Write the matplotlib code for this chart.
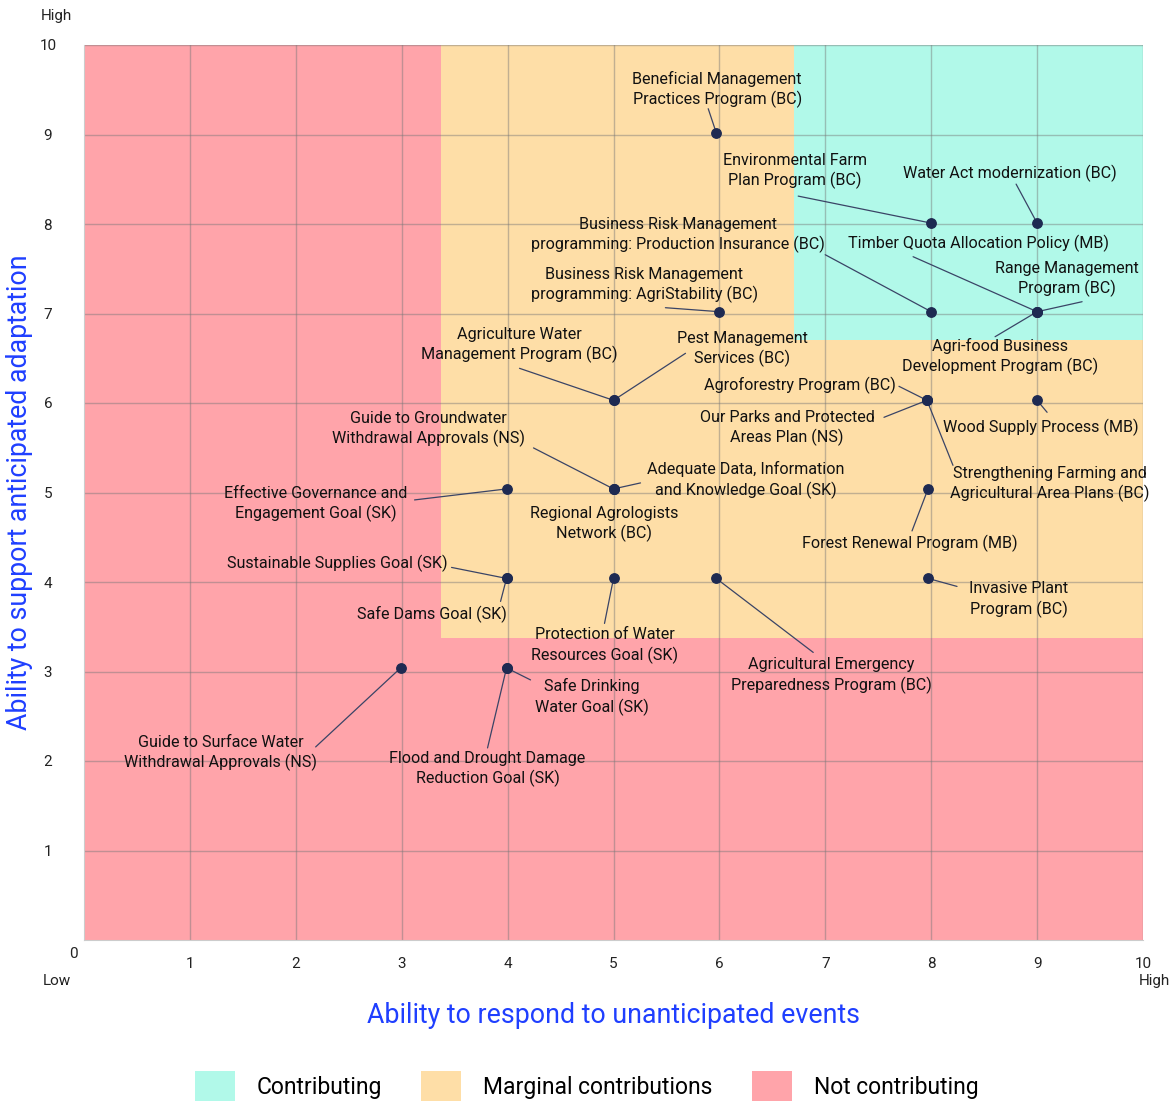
import matplotlib
matplotlib.use("Agg")
import matplotlib.pyplot as plt
from matplotlib.patches import Rectangle, Patch

plt.rcParams['font.family'] = ['Roboto', 'DejaVu Sans']

# programs and their scores (x: respond to unanticipated, y: support anticipated)
programs = [
    "Beneficial Management\nPractices Program (BC)",
    "Environmental Farm\nPlan Program (BC)",
    "Water Act modernization (BC)",
    "Business Risk Management\nprogramming: Production Insurance (BC)",
    "Timber Quota Allocation Policy (MB)",
    "Range Management\nProgram (BC)",
    "Agri-food Business\nDevelopment Program (BC)",
    "Business Risk Management\nprogramming: AgriStability (BC)",
    "Agriculture Water\nManagement Program (BC)",
    "Pest Management\nServices (BC)",
    "Agroforestry Program (BC)",
    "Our Parks and Protected\nAreas Plan (NS)",
    "Wood Supply Process (MB)",
    "Strengthening Farming and\nAgricultural Area Plans (BC)",
    "Forest Renewal Program (MB)",
    "Guide to Groundwater\nWithdrawal Approvals (NS)",
    "Adequate Data, Information\nand Knowledge Goal (SK)",
    "Effective Governance and\nEngagement Goal (SK)",
    "Regional Agrologists\nNetwork (BC)",
    "Sustainable Supplies Goal (SK)",
    "Safe Dams Goal (SK)",
    "Protection of Water\nResources Goal (SK)",
    "Agricultural Emergency\nPreparedness Program (BC)",
    "Guide to Surface Water\nWithdrawal Approvals (NS)",
    "Safe Drinking\nWater Goal (SK)",
    "Flood and Drought Damage\nReduction Goal (SK)",
    "Invasive Plant\nProgram (BC)",
]
x_score = [5.97, 8.0, 9.0, 8.0, 9.0, 9.0, 9.0, 6.0, 5.0, 5.0, 7.96, 7.96, 9.0, 7.96,
           7.97, 5.0, 5.0, 3.99, 5.0, 3.99, 3.99, 5.0, 5.97, 2.99, 3.99, 3.99, 7.97]
y_score = [9.02, 8.01, 8.01, 7.02, 7.02, 7.02, 7.02, 7.02, 6.03, 6.03, 6.03, 6.03, 6.03, 6.03,
           5.04, 5.04, 5.04, 5.04, 5.04, 4.04, 4.04, 4.04, 4.04, 3.04, 3.04, 3.04, 4.04]

zones = ["Contributing", "Marginal contributions", "Not contributing"]
zone_colors = ["#b1f9e9", "#fedea7", "#ffa4aa"]
marginal_cut = 3.37
contrib_cut = 6.7

# layout: label centre offset and leader-line start offset (pixels from point)
label_off = [(1, 43), (-136, 52), (-27, 50), (-253, 77), (-59, 68), (30, 33), (-37, -45),
             (-75, 27), (-94, 55), (129, 51), (-127, 15), (-140, -28), (4, -27), (123, -84),
             (-18, -54), (-185, 60), (132, 9), (-191, -15), (-9, -35), (-169, 15), (-75, -36),
             (-9, -67), (115, -97), (-180, -85), (85, -29), (-19, -101), (91, -21)]
line_off = [(-8, 24), (-133, 27), (-21, 39), (-106, 57), (-124, 55), (45, 10), (-42, -25),
            (-54, 4), (-94, 32), (72, 47), (-28, 14), (-43, -17), (10, -12), (26, -65),
            (-16, -42), (-80, 41), (27, 6), (-92, -11), None, (-55, 11), (-6, -23),
            (-9, -45), (97, -74), (-85, -79), (24, -12), (-19, -80), (29, -8)]

fig = plt.figure(figsize=(11.73, 11.05), dpi=100)
ax = fig.add_axes([84 / 1173, 1 - 940 / 1105, 1059 / 1173, 895 / 1105])

ax.add_patch(Rectangle((0, 0), 10, 10, color=zone_colors[2], zorder=-2, lw=0))
ax.add_patch(Rectangle((marginal_cut, marginal_cut), 10 - marginal_cut, 10 - marginal_cut,
                       color=zone_colors[1], zorder=-2, lw=0))
ax.add_patch(Rectangle((contrib_cut, contrib_cut), 10 - contrib_cut, 10 - contrib_cut,
                       color=zone_colors[0], zorder=-2, lw=0))

ax.set_xlim(0, 10)
ax.set_ylim(0, 10)
ax.set_xticks(range(1, 11))
ax.set_yticks(range(1, 11))
ax.grid(True, color='#777777', alpha=0.45, lw=1)
ax.set_axisbelow(True)
ax.tick_params(length=0, labelsize=11, colors='#222222')
ax.tick_params(axis='x', pad=12)
ax.tick_params(axis='y', pad=26)
for lbl in ax.get_yticklabels():
    lbl.set_horizontalalignment('center')
for side in ['top', 'right']:
    ax.spines[side].set_visible(False)
for side in ['left', 'bottom']:
    ax.spines[side].set_color('#cccccc')

ax.scatter(x_score, y_score, s=46, color='#1e2a52', zorder=5)

for i, name in enumerate(programs):
    dx, dy = label_off[i]
    ax.annotate(name, xy=(x_score[i], y_score[i]), xytext=(dx, dy), textcoords='offset pixels',
                ha='center', va='center', multialignment='center', fontsize=11.6,
                linespacing=1.3, color='#111111', zorder=6)
    if line_off[i] is not None:
        ax.annotate('', xy=(x_score[i], y_score[i]), xytext=line_off[i], textcoords='offset pixels',
                    arrowprops=dict(arrowstyle='-', color='#3a4466', lw=0.9, shrinkA=0, shrinkB=0),
                    zorder=4)

ax.set_xlabel("Ability to respond to unanticipated events", fontsize=19.3, color='#1f3fff')
ax.xaxis.set_label_coords(0.5, -0.069)
ax.set_ylabel("Ability to support anticipated adaptation", fontsize=19.3, color='#1f3fff')
ax.yaxis.set_label_coords(-0.048, 0.5)

fig.text(73 / 1173, 1 - 954 / 1105, "0", ha='center', va='center', fontsize=11, color='#222222')
fig.text(57 / 1173, 1 - 981 / 1105, "Low", ha='center', va='center', fontsize=11, color='#222222')
fig.text(1154 / 1173, 1 - 981 / 1105, "High", ha='center', va='center', fontsize=11, color='#222222')
fig.text(56 / 1173, 1 - 16 / 1105, "High", ha='center', va='center', fontsize=11, color='#222222')

handles = [Patch(facecolor=c, edgecolor='none') for c in zone_colors]
fig.legend(handles, zones, loc='center', bbox_to_anchor=(0.5, 1 - 1086 / 1105), ncol=3,
           frameon=False, fontsize=16.5, handlelength=1.75, handleheight=1.6,
           handletextpad=0.96, columnspacing=1.7)

fig.savefig("out.png", dpi=100)
